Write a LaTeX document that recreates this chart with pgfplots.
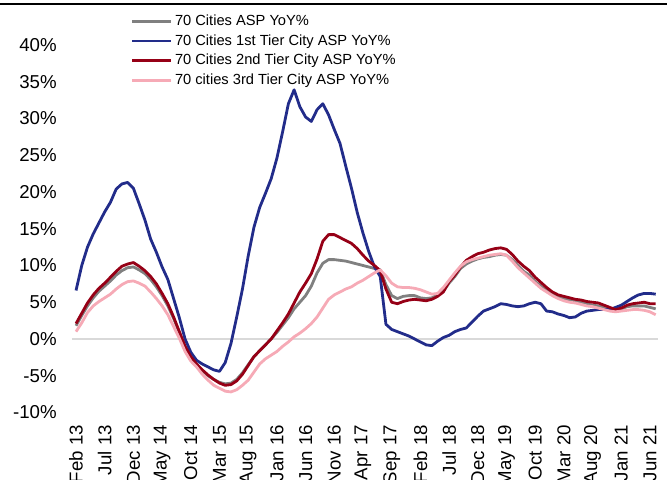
\documentclass[border=0pt]{standalone}
\usepackage{pgfplots}
\usepackage{pgfplotstable}
\pgfplotsset{compat=1.18}
\usepackage{fontspec}
\setmainfont{Liberation Sans}
\definecolor{cgrey}{RGB}{128,128,128}
\definecolor{cblue}{RGB}{34,44,138}
\definecolor{cred}{RGB}{150,0,22}
\definecolor{cpink}{RGB}{246,170,182}
\pgfplotstableread{
i all t1 t2 t3
0 1.8 6.6 2.1 1.0
1 3.2 10.0 3.5 2.2
2 4.5 12.5 4.9 3.6
3 5.6 14.3 6.0 4.5
4 6.5 15.8 6.9 5.1
5 7.2 17.3 7.6 5.6
6 7.9 18.6 8.4 6.1
7 8.7 20.4 9.2 6.8
8 9.3 21.1 9.9 7.4
9 9.7 21.3 10.2 7.8
10 9.8 20.5 10.4 7.9
11 9.4 18.4 9.9 7.6
12 8.9 16.2 9.3 7.2
13 8.1 13.6 8.5 6.4
14 7.1 11.8 7.5 5.5
15 5.9 9.8 6.2 4.5
16 4.5 8.1 4.8 3.3
17 2.8 5.5 3.0 1.7
18 0.9 2.9 1.0 0.1
19 -1.0 0.0 -1.0 -1.7
20 -2.5 -1.8 -2.4 -3.0
21 -3.5 -2.9 -3.4 -3.8
22 -4.3 -3.4 -4.2 -4.8
23 -5.0 -3.8 -4.9 -5.6
24 -5.5 -4.2 -5.5 -6.3
25 -5.9 -4.4 -6.0 -6.7
26 -6.1 -3.2 -6.3 -7.1
27 -6.0 -0.6 -6.2 -7.2
28 -5.5 3.0 -5.7 -6.9
29 -4.6 6.8 -4.8 -6.3
30 -3.5 11.3 -3.6 -5.6
31 -2.4 15.2 -2.4 -4.5
32 -1.6 17.9 -1.6 -3.4
33 -0.8 19.8 -0.8 -2.7
34 0.0 21.8 0.0 -2.2
35 0.9 24.6 1.1 -1.7
36 1.9 28.2 2.2 -1.0
37 2.9 32.0 3.4 -0.4
38 4.1 33.9 4.9 0.3
39 5.0 31.6 6.4 0.8
40 5.9 30.2 7.6 1.4
41 7.2 29.6 8.9 2.1
42 9.0 31.2 10.9 3.0
43 10.3 32.0 13.3 4.2
44 10.8 30.5 14.2 5.4
45 10.8 28.5 14.2 6.0
46 10.7 26.6 13.8 6.4
47 10.6 23.5 13.4 6.8
48 10.4 20.5 13.0 7.1
49 10.2 17.2 12.3 7.6
50 10.0 14.4 11.4 8.0
51 9.8 11.9 10.6 8.5
52 9.6 9.8 10.0 9.0
53 9.4 8.5 9.3 9.4
54 7.4 2.0 6.8 8.6
55 5.9 1.3 5.0 7.6
56 5.5 1.0 4.8 7.1
57 5.8 0.7 5.1 7.0
58 5.9 0.4 5.3 7.0
59 5.9 0.0 5.4 6.9
60 5.6 -0.4 5.3 6.7
61 5.5 -0.8 5.2 6.4
62 5.6 -0.9 5.4 6.1
63 6.0 -0.3 5.8 6.2
64 6.5 0.2 6.4 7.0
65 7.6 0.5 7.8 8.0
66 8.5 1.0 8.7 9.0
67 9.6 1.3 9.8 9.9
68 10.2 1.5 10.7 10.5
69 10.6 2.3 11.2 10.8
70 10.9 3.1 11.6 11.0
71 11.1 3.8 11.8 11.2
72 11.2 4.1 12.1 11.4
73 11.4 4.4 12.3 11.5
74 11.5 4.8 12.4 11.6
75 11.4 4.7 12.2 11.4
76 10.8 4.5 11.5 10.6
77 10.0 4.4 10.6 9.7
78 9.2 4.5 9.9 9.0
79 8.7 4.8 9.3 8.3
80 7.8 5.0 8.4 7.6
81 7.2 4.8 7.7 6.9
82 6.6 3.8 7.0 6.4
83 6.1 3.7 6.4 5.9
84 5.8 3.4 6.0 5.5
85 5.5 3.2 5.8 5.2
86 5.3 2.9 5.6 5.0
87 5.1 3.0 5.4 4.9
88 5.0 3.5 5.3 4.7
89 4.8 3.8 5.1 4.5
90 4.6 3.9 5.0 4.4
91 4.5 4.0 4.9 4.2
92 4.3 4.0 4.6 4.0
93 4.0 4.0 4.3 3.8
94 3.9 4.3 4.0 3.7
95 4.1 4.6 4.2 3.8
96 4.4 5.1 4.6 3.9
97 4.5 5.6 4.8 4.0
98 4.5 6.0 4.9 4.0
99 4.5 6.2 5.0 3.9
100 4.3 6.2 4.8 3.7
101 4.1 6.1 4.8 3.3
}\datatable
\begin{document}
\begin{tikzpicture}
\useasboundingbox (0,0) rectangle (500.25pt,359.25pt);
\draw[black, line width=1.9pt] (0,356.25pt) -- (500.25pt,356.25pt);
\begin{axis}[
  at={(54pt,49.875pt)}, anchor=south west,
  scale only axis, width=439.5pt, height=303.2pt,
  xmin=-0.7, xmax=101.4, ymin=-10, ymax=45,
  axis line style={draw=none},
  xtick={0,5,...,100},
  xticklabels={Feb 13,Jul 13,Dec 13,May 14,Oct 14,Mar 15,Aug 15,Jan 16,Jun 16,Nov 16,Apr 17,Sep 17,Feb 18,Jul 18,Dec 18,May 19,Oct 19,Mar 20,Aug 20,Jan 21,Jun 21},
  xticklabel style={rotate=90, anchor=east, xshift=-6pt, font=\fontsize{14}{16}\selectfont},
  ytick={-10,-5,...,40},
  yticklabels={-10\%,-5\%,0\%,5\%,10\%,15\%,20\%,25\%,30\%,35\%,40\%},
  yticklabel style={xshift=-8pt, font=\fontsize{14}{16}\selectfont},
  tick style={draw=none},
  legend style={at={(0.1,0.99)}, anchor=north west, draw=none, fill=none, inner sep=0pt,
    font=\fontsize{11}{13}\selectfont, row sep=1.2pt, cells={anchor=west}},
  legend image code/.code={\draw[#1] (0pt,0pt) -- (29pt,0pt);},
  every axis plot/.append style={line width=2.1pt, line join=round},
]
\draw[gray!30, line width=1.6pt] (axis cs:-0.7,0) -- (axis cs:101.4,0);
\addplot[cgrey, no marks] table[x=i, y=all] {\datatable};
\addlegendentry{70 Cities ASP YoY\%}
\addplot[cblue, no marks] table[x=i, y=t1] {\datatable};
\addlegendentry{70 Cities 1st Tier City ASP YoY\%}
\addplot[cred, no marks] table[x=i, y=t2] {\datatable};
\addlegendentry{70 Cities 2nd Tier City ASP YoY\%}
\addplot[cpink, no marks] table[x=i, y=t3] {\datatable};
\addlegendentry{70 cities 3rd Tier City ASP YoY\%}
\end{axis}
\end{tikzpicture}
\end{document}
